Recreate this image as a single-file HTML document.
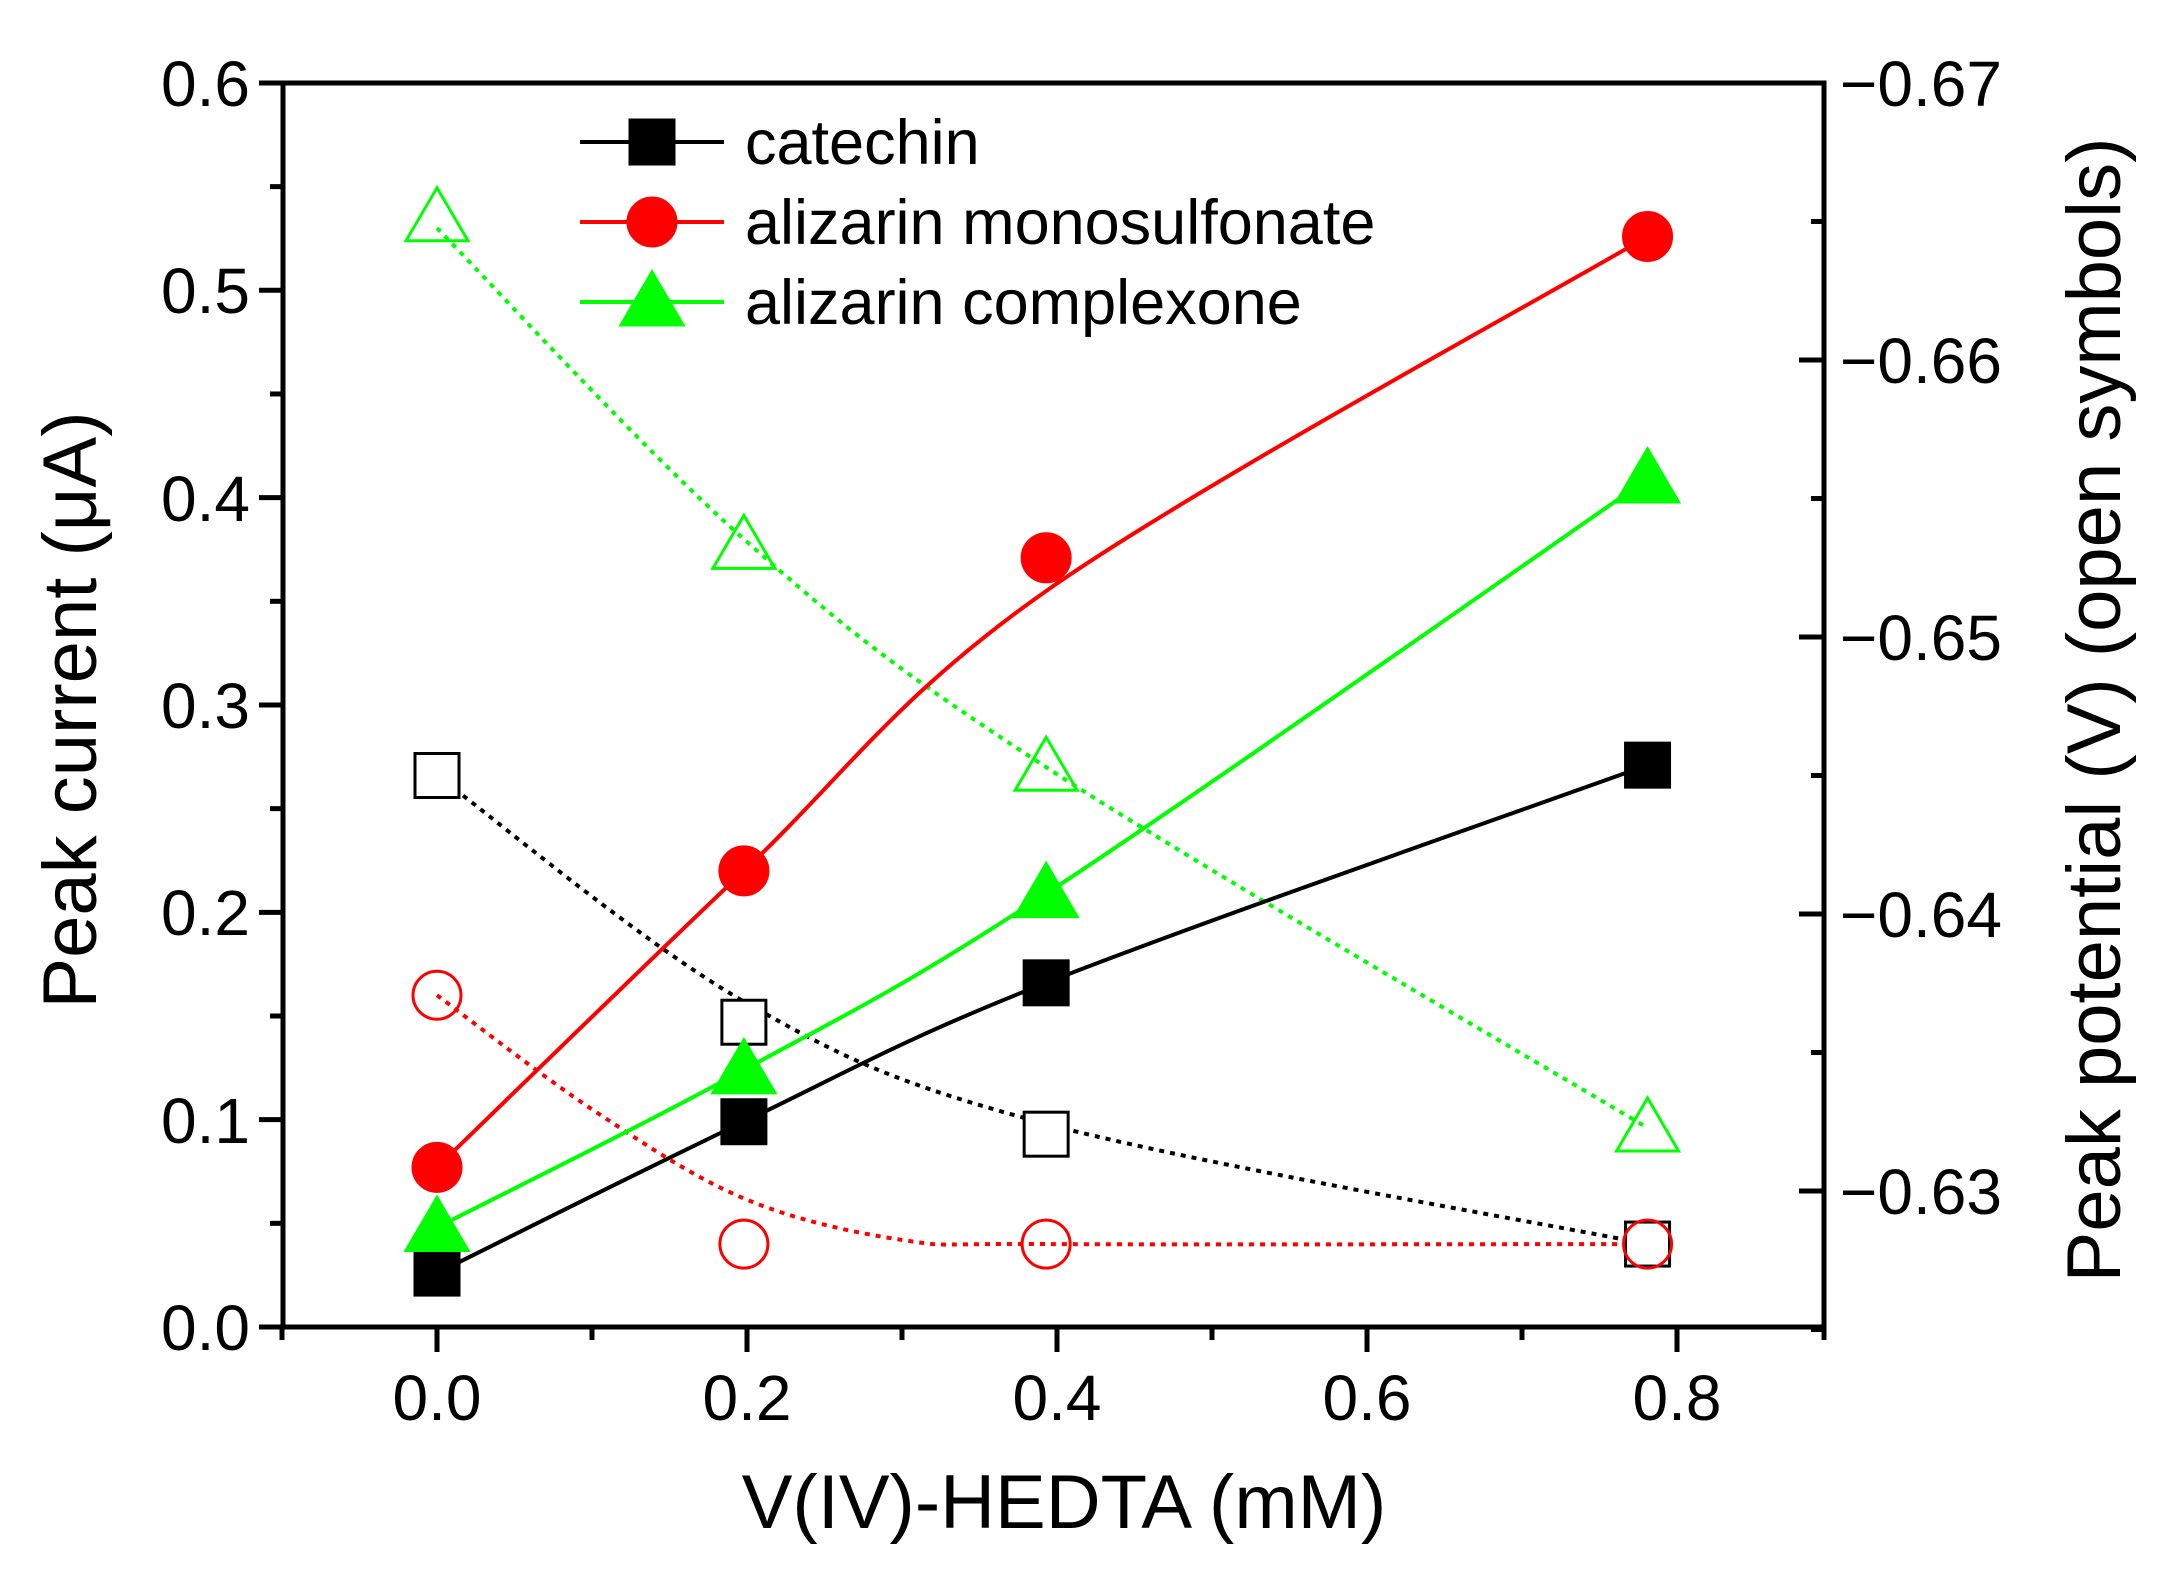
<!DOCTYPE html>
<html><head><meta charset="utf-8"><style>
html,body{margin:0;padding:0;background:#fff;}
svg{display:block;}
text{font-family:"Liberation Sans",sans-serif;fill:#000;}
</style></head><body>
<svg id="s" xmlns="http://www.w3.org/2000/svg" width="2182" height="1571" viewBox="0 0 2182 1571">
<rect width="2182" height="1571" fill="#fff"/>
<g id="curves"></g>
<g id="marks"></g>
<g id="axes" stroke="#000" stroke-width="5" fill="none"></g>
<g font-size="64">
<text x="250" y="1350" text-anchor="end">0.0</text>
<text x="250" y="1143" text-anchor="end">0.1</text>
<text x="250" y="935" text-anchor="end">0.2</text>
<text x="250" y="728" text-anchor="end">0.3</text>
<text x="250" y="521" text-anchor="end">0.4</text>
<text x="250" y="313" text-anchor="end">0.5</text>
<text x="250" y="106" text-anchor="end">0.6</text>
<text x="437" y="1420" text-anchor="middle">0.0</text>
<text x="747" y="1420" text-anchor="middle">0.2</text>
<text x="1057" y="1420" text-anchor="middle">0.4</text>
<text x="1367" y="1420" text-anchor="middle">0.6</text>
<text x="1677" y="1420" text-anchor="middle">0.8</text>
<text x="1840" y="106">−0.67</text>
<text x="1840" y="383">−0.66</text>
<text x="1840" y="660">−0.65</text>
<text x="1840" y="937">−0.64</text>
<text x="1840" y="1214">−0.63</text>
</g>
<text x="1064" y="1528" font-size="76" text-anchor="middle">V(IV)-HEDTA (mM)</text>
<text transform="translate(96,710) rotate(-90)" font-size="76" text-anchor="middle">Peak current (μA)</text>
<text transform="translate(2120,710) rotate(-90)" font-size="76" text-anchor="middle">Peak potential (V) (open symbols)</text>
<g font-size="63">
<text x="745" y="164">catechin</text>
<text x="745" y="244">alizarin monosulfonate</text>
<text x="745" y="324">alizarin complexone</text>
</g>
<g id="legend"></g>
</svg>
<script>
var NS="http://www.w3.org/2000/svg";
function X(v){return 437+1550*v;}
function Y(v){return 1327-2073.3*v;}
function el(p,t,a){var e=document.createElementNS(NS,t);for(var k in a)e.setAttribute(k,a[k]);document.getElementById(p).appendChild(e);return e;}
function spline(pts){
  var P=pts.map(function(p){return [X(p[0]),Y(p[1])];});
  var d="M"+P[0][0]+","+P[0][1];
  for(var i=0;i<P.length-1;i++){
    var p0=P[i-1]||P[i],p1=P[i],p2=P[i+1],p3=P[i+2]||P[i+1];
    var c1=[p1[0]+(p2[0]-p0[0])/6,p1[1]+(p2[1]-p0[1])/6];
    var c2=[p2[0]-(p3[0]-p1[0])/6,p2[1]-(p3[1]-p1[1])/6];
    d+=" C"+c1+" "+c2+" "+p2;
  }
  return d;
}
var xs=[0,0.198,0.393,0.781];
el("curves","path",{d:spline([[0,0.266],[0.198,0.157],[0.393,0.098],[0.781,0.040]]),stroke:"#000","stroke-width":4,"stroke-dasharray":"5 6",fill:"none"});
el("curves","path",{d:spline([[0,0.160],[0.1,0.105],[0.198,0.062],[0.3,0.042],[0.393,0.040],[0.781,0.040]]),stroke:"#f00","stroke-width":4,"stroke-dasharray":"5 6",fill:"none"});
el("curves","path",{d:spline([[0,0.53],[0.198,0.38],[0.393,0.27],[0.781,0.096]]),stroke:"#0f0","stroke-width":4,"stroke-dasharray":"5 6",fill:"none"});
el("curves","path",{d:spline([[0,0.026],[0.198,0.099],[0.393,0.166],[0.781,0.271]]),stroke:"#000","stroke-width":4,fill:"none"});
el("curves","path",{d:spline([[0,0.077],[0.198,0.22],[0.393,0.355],[0.781,0.526]]),stroke:"#f00","stroke-width":4,fill:"none"});
el("curves","path",{d:spline([[0,0.048],[0.198,0.124],[0.393,0.209],[0.781,0.409]]),stroke:"#0f0","stroke-width":4,fill:"none"});
function sq(g,cx,cy,fill,stroke){el(g,"rect",{x:cx-22,y:cy-22,width:44,height:44,fill:fill,stroke:stroke,"stroke-width":3});}
function ci(g,cx,cy,fill,stroke){el(g,"circle",{cx:cx,cy:cy,r:24,fill:fill,stroke:stroke,"stroke-width":3});}
function tr(g,cx,cy,fill,stroke){el(g,"path",{d:"M"+cx+","+(cy-30)+" L"+(cx+31)+","+(cy+23)+" L"+(cx-31)+","+(cy+23)+"Z",fill:fill,stroke:stroke,"stroke-width":3});}
var os=[0.266,0.147,0.093,0.040],oc=[0.160,0.040,0.040,0.040],ot=[0.535,0.377,0.270,0.096];
var fs=[0.026,0.099,0.166,0.271],fc=[0.077,0.22,0.371,0.526],ft=[0.048,0.124,0.209,0.409];
for(var i=0;i<4;i++){ sq("marks",X(xs[i]),Y(os[i]),"#fff","#000"); }
for(var i=0;i<4;i++){
  sq("marks",X(xs[i]),Y(fs[i]),"#000","#000");
  tr("marks",X(xs[i]),Y(ft[i]),"#0f0","#0f0");
  ci("marks",X(xs[i]),Y(fc[i]),"#f00","#f00");
}
for(var i=0;i<4;i++){
  ci("marks",X(xs[i]),Y(oc[i]),"none","#f00");
  tr("marks",X(xs[i]),Y(ot[i]),"none","#0f0");
}
var ly=[142,222,302],lc=["#000","#f00","#0f0"];
for(var i=0;i<3;i++){
  el("legend","line",{x1:580,y1:ly[i],x2:724,y2:ly[i],stroke:lc[i],"stroke-width":4});
}
sq("legend",652,142,"#000","#000");ci("legend",652,222,"#f00","#f00");tr("legend",652,302,"#0f0","#0f0");
el("axes","rect",{x:283,y:83,width:1541,height:1244});
for(var k=0;k<=12;k++){var y=1327-k*103.67;var L=(k%2==0)?24:13;el("axes","line",{x1:283,y1:y,x2:283-L,y2:y});}
for(var k=0;k<=10;k++){var x=Math.min(282+k*155,1824);var L=(k%2==1)?25:13;el("axes","line",{x1:x,y1:1327,x2:x,y2:1327+L});}
for(var k=0;k<=9;k++){var y=83+k*138.5;var L=(k%2==0)?25:13;el("axes","line",{x1:1824,y1:y,x2:1824-L,y2:y});}
</script>
</body></html>
